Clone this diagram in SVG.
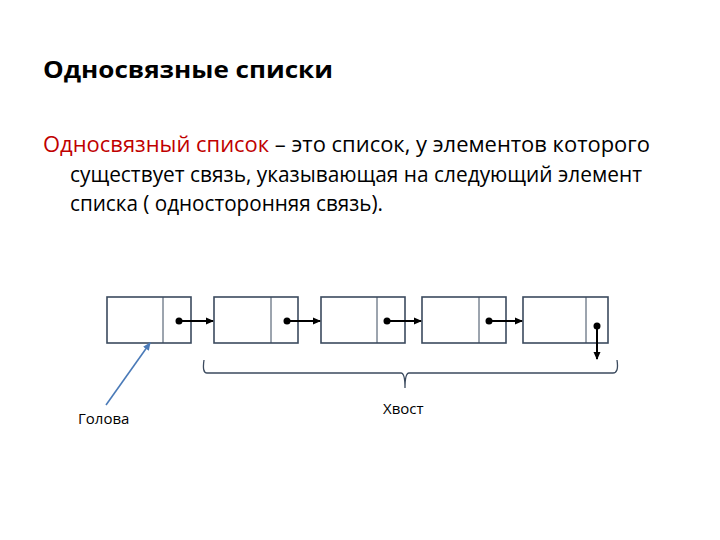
<svg xmlns="http://www.w3.org/2000/svg" width="720" height="540" viewBox="0 0 720 540">
<defs>
<style>
.t{font-family:"Open Sans","Liberation Sans",sans-serif;fill:#000}
.box{fill:#fff;stroke:#3b4a5e;stroke-width:1.6}
.div{stroke:#3b4a5e;stroke-width:1}
.lnk{stroke:#000;stroke-width:2;fill:none}
</style>
<marker id="ah" markerWidth="8" markerHeight="8" refX="7" refY="4" orient="auto" markerUnits="userSpaceOnUse">
<path d="M0,0.5 L8,4 L0,7.5 Z" fill="#000"/>
</marker>
<marker id="bh" markerWidth="8" markerHeight="8" refX="7" refY="4" orient="auto" markerUnits="userSpaceOnUse">
<path d="M0,0.5 L8,4 L0,7.5 Z" fill="#4a7ab8"/>
</marker>
</defs>
<rect width="720" height="540" fill="#fff"/>
<text class="t" x="43" y="78" font-size="24" font-weight="bold" textLength="290" lengthAdjust="spacingAndGlyphs">Односвязные списки</text>
<text class="t" x="43" y="152" font-size="21" textLength="607" lengthAdjust="spacingAndGlyphs"><tspan fill="#c00000">Односвязный список</tspan> – это список, у элементов которого</text>
<text class="t" x="70" y="182" font-size="21" textLength="572" lengthAdjust="spacingAndGlyphs">существует связь, указывающая на следующий элемент</text>
<text class="t" x="70" y="211" font-size="21" textLength="313" lengthAdjust="spacingAndGlyphs">списка ( односторонняя связь).</text>
<g id="node1"><rect class="box" x="107" y="297" width="84" height="46"/><line class="div" x1="163" y1="297" x2="163" y2="343"/></g>
<g id="node2"><rect class="box" x="214" y="297" width="84" height="46"/><line class="div" x1="271" y1="297" x2="271" y2="343"/></g>
<g id="node3"><rect class="box" x="321" y="297" width="84" height="46"/><line class="div" x1="377" y1="297" x2="377" y2="343"/></g>
<g id="node4"><rect class="box" x="422" y="297" width="84" height="46"/><line class="div" x1="479" y1="297" x2="479" y2="343"/></g>
<g id="node5"><rect class="box" x="523" y="297" width="85" height="46"/><line class="div" x1="586" y1="297" x2="586" y2="343"/></g>
<g id="connectors">
<circle cx="179" cy="321" r="3.5"/><line class="lnk" x1="179" y1="321" x2="213" y2="321" marker-end="url(#ah)"/>
<circle cx="287" cy="321" r="3.5"/><line class="lnk" x1="287" y1="321" x2="320" y2="321" marker-end="url(#ah)"/>
<circle cx="387" cy="321" r="3.5"/><line class="lnk" x1="387" y1="321" x2="421" y2="321" marker-end="url(#ah)"/>
<circle cx="489" cy="321" r="3.5"/><line class="lnk" x1="489" y1="321" x2="522" y2="321" marker-end="url(#ah)"/>
<circle cx="597" cy="326" r="3.5"/><line class="lnk" x1="597" y1="326" x2="597" y2="359" marker-end="url(#ah)"/>
<line x1="106" y1="405" x2="150" y2="343" stroke="#4a7ab8" stroke-width="1.6" marker-end="url(#bh)"/>
</g>
<g id="brace">
<path d="M204,360 Q202,373 207,373 L401,373 Q405,373 405,388 Q405,373 409,373 L613,373 Q619,373 617,360" fill="none" stroke="#3b4a5e" stroke-width="1.3"/>
</g>
<g id="labels">
<text class="t" x="78" y="424" font-size="15">Голова</text>
<text class="t" x="383" y="414" font-size="15">Хвост</text>
</g>
</svg>
